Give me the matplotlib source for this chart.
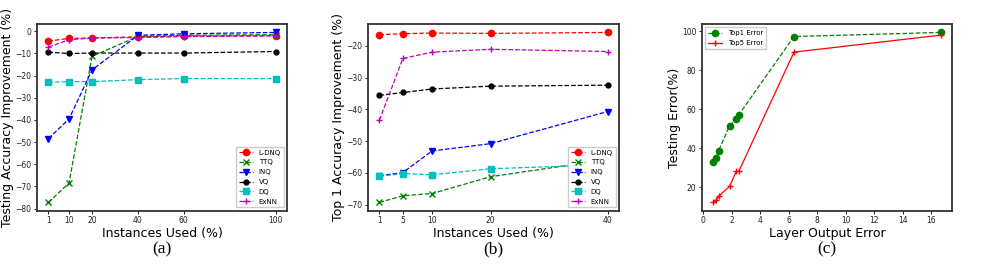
import matplotlib
matplotlib.use("Agg")
import matplotlib.pyplot as plt

# panel (a)
xa = [1, 10, 20, 40, 60, 100]
a_ldnq = [-4.4, -3.2, -3.0, -2.5, -2.1, -2.0]
a_ttq = [-77.2, -68.4, -11.3, -2.3, -1.8, -1.5]
a_inq = [-48.4, -39.5, -17.4, -1.8, -1.1, -0.5]
a_vq = [-9.4, -10.0, -9.8, -9.8, -9.8, -9.1]
a_dq = [-23.0, -22.7, -22.7, -21.8, -21.3, -21.3]
a_exnn = [-7.1, -3.8, -3.0, -2.8, -2.4, -2.0]

# panel (b)
xb = [1, 5, 10, 20, 40]
b_ldnq = [-16.5, -16.2, -16.0, -16.1, -15.8]
b_ttq = [-69.3, -67.2, -66.5, -61.2, -55.8]
b_inq = [-60.9, -59.9, -53.1, -50.8, -40.7]
b_vq = [-35.6, -34.7, -33.6, -32.7, -32.4]
b_dq = [-61.1, -60.2, -60.6, -58.7, -57.4]
b_exnn = [-43.4, -24.0, -22.0, -21.1, -21.8]

# panel (c)
layer_err = [0.70, 0.91, 1.07, 1.84, 2.31, 2.49, 6.36, 16.65]
top1 = [33.2, 34.9, 38.9, 51.6, 55.2, 57.3, 97.4, 99.5]
top5 = [12.3, 13.5, 15.5, 20.5, 28.2, 28.3, 89.4, 98.1]

labels = ["L-DNQ", "TTQ", "INQ", "VQ", "DQ", "ExNN"]
styles = [("r", "o", 4.5), ("g", "x", 4), ("b", "v", 4.5),
          ("k", "o", 3.5), ("c", "s", 4.5), ("m", "+", 4.5)]

fig = plt.figure(figsize=(9.88, 2.66), dpi=100)
ax_a = fig.add_axes([0.0375, 0.207, 0.253, 0.703])
ax_b = fig.add_axes([0.3725, 0.207, 0.254, 0.703])
ax_c = fig.add_axes([0.7105, 0.207, 0.253, 0.703])


def style_ax(ax):
    for s in ax.spines.values():
        s.set_linewidth(1.3)
        s.set_color("#333333")
    ax.tick_params(labelsize=5.5, length=2.5, width=0.6, pad=1.5, labelcolor="#222222")


def add_legend(ax, loc):
    ax.legend(loc=loc, fontsize=5, handlelength=2, labelspacing=0.55,
              fancybox=False, framealpha=1, edgecolor="#cccccc")


for ys, lab, (c, m, ms) in zip([a_ldnq, a_ttq, a_inq, a_vq, a_dq, a_exnn], labels, styles):
    ax_a.plot(xa, ys, "--", color=c, marker=m, markersize=ms, linewidth=0.9, label=lab)
ax_a.set_xticks(xa)
ax_a.set_yticks(range(-80, 1, 10))
ax_a.set_xlabel("Instances Used (%)", fontsize=9, labelpad=1)
ax_a.set_ylabel("Testing Accuracy Improvement (%)", fontsize=9, labelpad=1)
add_legend(ax_a, "lower right")
style_ax(ax_a)

for ys, lab, (c, m, ms) in zip([b_ldnq, b_ttq, b_inq, b_vq, b_dq, b_exnn], labels, styles):
    ax_b.plot(xb, ys, "--", color=c, marker=m, markersize=ms, linewidth=0.9, label=lab)
ax_b.set_xticks(xb)
ax_b.set_yticks(range(-70, -19, 10))
ax_b.set_xlabel("Instances Used (%)", fontsize=9, labelpad=1)
ax_b.set_ylabel("Top 1 Accuracy Improvement (%)", fontsize=9, labelpad=1)
add_legend(ax_b, "lower right")
style_ax(ax_b)

ax_c.plot(layer_err, top1, "--", color="g", marker="o", markersize=4.5, linewidth=0.9, label="Top1 Error")
ax_c.plot(layer_err, top5, "-", color="r", marker="+", markersize=5, linewidth=0.9, label="Top5 Error")
ax_c.set_xticks(range(0, 17, 2))
ax_c.set_yticks(range(20, 101, 20))
ax_c.set_xlabel("Layer Output Error", fontsize=9, labelpad=1)
ax_c.set_ylabel("Testing Error(%)", fontsize=9, labelpad=1)
add_legend(ax_c, "upper left")
style_ax(ax_c)

for ax, cap in zip([ax_a, ax_b, ax_c], ["(a)", "(b)", "(c)"]):
    ax.text(0.5, -0.165, cap, transform=ax.transAxes, ha="center", va="top",
            fontsize=12.5, family="Liberation Serif")

fig.savefig("out.png", dpi=100)
